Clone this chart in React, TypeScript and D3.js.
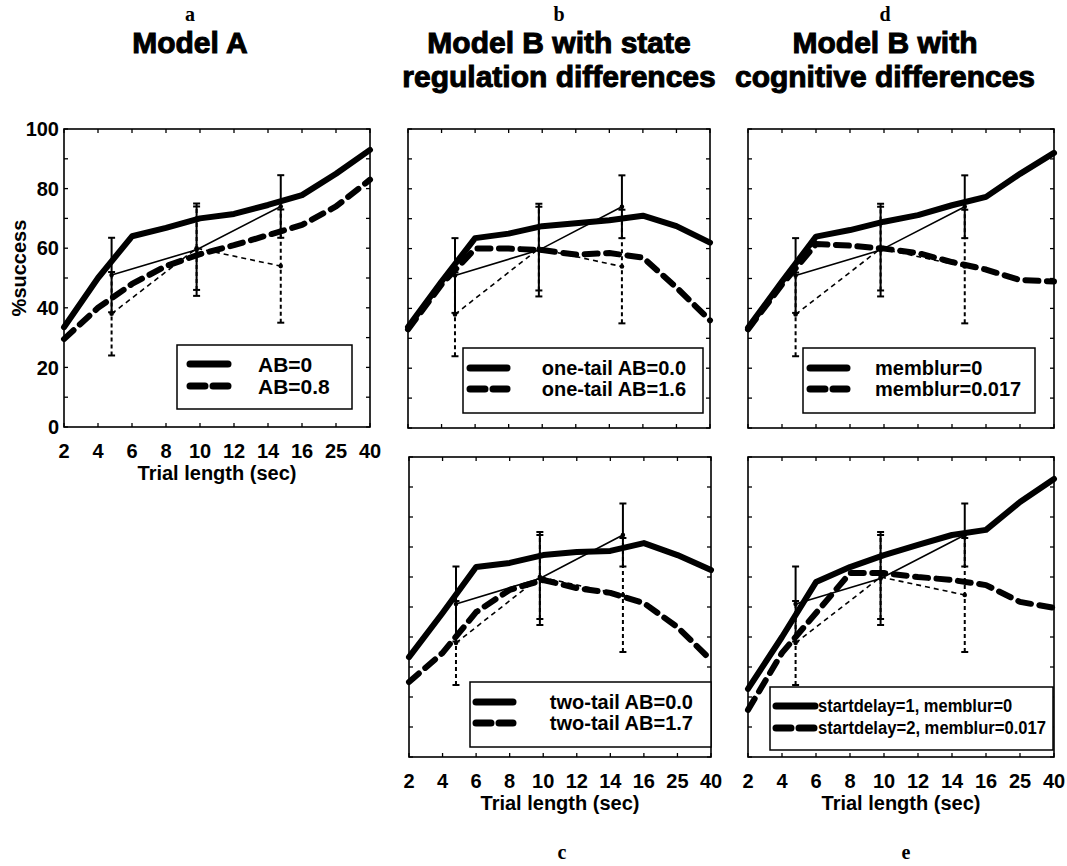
import React from "react";
import * as d3 from "d3";

// trial lengths (equally spaced categories on the x axis)
const trialLengths = [2, 4, 6, 8, 10, 12, 14, 16, 25, 40];
const yTicks = [0, 20, 40, 60, 80, 100];

// observed data (thin lines with error bars), same in every panel
const dataX = [4.8, 9.8, 14.75];
const dataSolid = [51, 59.5, 74];
const dataSolidErr = [12.5, 15.5, 10.5];
const dataDashed = [38, 60, 54];
const dataDashedErr = [14, 14, 19];

// model curves
const modelA_AB0 = [33.5, 50, 64, 66.8, 70, 71.5, 74.5, 77.8, 85, 93];
const modelA_AB08 = [29.5, 40, 48, 54, 58, 61, 64.4, 67.8, 74, 83];
const oneTail00 = [33.8, 49, 63.5, 65, 67.5, 68.5, 69.5, 71, 67.5, 62];
const oneTail16 = [33, 48, 60, 60, 59.5, 58, 58.5, 57, 47, 36];
const twoTail00 = [33.3, 48, 63.3, 64.7, 67.3, 68.3, 68.7, 71.3, 67.3, 62.3];
const twoTail17 = [25, 34.7, 48.3, 55.7, 59, 56.3, 54.7, 51.3, 43.3, 32.3];
const memblur0 = [33.5, 49, 64, 66.2, 69, 71.2, 74.5, 77.3, 85, 92];
const memblur017 = [33, 48, 61.5, 61, 60, 58.5, 55.5, 53, 49.5, 49];
const startdelay1 = [22.7, 40, 58.3, 63.3, 67.3, 70.7, 74, 75.7, 85, 92.7];
const startdelay2 = [15.7, 34.7, 48, 61.3, 61.3, 60, 59, 57.3, 51.7, 49.7];

const legendA = ["AB=0", "AB=0.8"];
const legendB = ["one-tail AB=0.0", "one-tail AB=1.6"];
const legendC = ["two-tail AB=0.0", "two-tail AB=1.7"];
const legendD = ["memblur=0", "memblur=0.017"];
const legendE = ["startdelay=1, memblur=0", "startdelay=2, memblur=0.017"];

const SANS = "'Liberation Sans', Arial, Helvetica, sans-serif";
const SERIF = "'Liberation Serif', 'Times New Roman', serif";

type Legend = {
  labels: string[];
  box: [number, number, number, number];
  sx: [number, number];
  sy: [number, number];
  tx: number;
  anchor: "start" | "end";
  size: number;
  fit?: number;
};

type PanelProps = {
  x0: number; x1: number; y0: number; y1: number;
  solid: number[]; dashed: number[];
  legend: Legend;
  yLabels?: boolean; xLabels?: boolean;
};

function Panel(p: PanelProps) {
  const x = d3.scaleLinear()
    .domain(trialLengths)
    .range(trialLengths.map((_, i) => p.x0 + (i * (p.x1 - p.x0)) / (trialLengths.length - 1)));
  const y = d3.scaleLinear().domain([0, 100]).range([p.y1, p.y0]);
  const line = d3.line<number>().x((_, i) => x(trialLengths[i])).y(d => y(d));
  const dline = d3.line<number>().x((_, i) => x(dataX[i])).y(d => y(d));
  const tk = 4;
  const lg = p.legend;

  return (
    <g>
      {/* model curves */}
      <path d={line(p.solid) || ""} fill="none" stroke="#000" strokeWidth={6} strokeLinejoin="round" strokeLinecap="round" />
      <path d={line(p.dashed) || ""} fill="none" stroke="#000" strokeWidth={6} strokeLinejoin="round" strokeLinecap="round" strokeDasharray="13 8.5" />

      {/* observed data */}
      <path d={dline(dataSolid) || ""} fill="none" stroke="#000" strokeWidth={1.6} />
      <path d={dline(dataDashed) || ""} fill="none" stroke="#000" strokeWidth={1.6} strokeDasharray="5 4" />
      {dataX.map((dx, i) => {
        const cx = x(dx);
        const bars = [
          { m: dataSolid[i], e: dataSolidErr[i], dash: undefined },
          { m: dataDashed[i], e: dataDashedErr[i], dash: "4 3" },
        ];
        return (
          <g key={i}>
            {bars.map((b, j) => (
              <g key={j}>
                <line x1={cx} x2={cx} y1={y(b.m - b.e)} y2={y(b.m + b.e)} stroke="#000" strokeWidth={2} strokeDasharray={b.dash} />
                <line x1={cx - 3.5} x2={cx + 3.5} y1={y(b.m - b.e)} y2={y(b.m - b.e)} stroke="#000" strokeWidth={2} />
                <line x1={cx - 3.5} x2={cx + 3.5} y1={y(b.m + b.e)} y2={y(b.m + b.e)} stroke="#000" strokeWidth={2} />
                <circle cx={cx} cy={y(b.m)} r={2.3} fill="#000" />
              </g>
            ))}
          </g>
        );
      })}

      {/* frame and inward ticks */}
      <rect x={p.x0} y={p.y0} width={p.x1 - p.x0} height={p.y1 - p.y0} fill="none" stroke="#000" strokeWidth={1.6} />
      {trialLengths.map((t, i) => (
        <g key={"xt" + i}>
          <line x1={x(t)} x2={x(t)} y1={p.y1} y2={p.y1 - tk} stroke="#000" strokeWidth={1.3} />
          <line x1={x(t)} x2={x(t)} y1={p.y0} y2={p.y0 + tk} stroke="#000" strokeWidth={1.3} />
        </g>
      ))}
      {d3.range(0, 101, 10).map(v => (
        <g key={"yt" + v}>
          <line x1={p.x0} x2={p.x0 + tk} y1={y(v)} y2={y(v)} stroke="#000" strokeWidth={1.3} />
          <line x1={p.x1} x2={p.x1 - tk} y1={y(v)} y2={y(v)} stroke="#000" strokeWidth={1.3} />
        </g>
      ))}

      {p.yLabels && yTicks.map(v => (
        <text key={"yl" + v} x={p.x0 - 5} y={y(v)} dy="0.36em" textAnchor="end" fontFamily={SANS} fontWeight="bold" fontSize={20}>{v}</text>
      ))}
      {p.xLabels && trialLengths.map(t => (
        <text key={"xl" + t} x={x(t)} y={p.y1 + 24} dy="0.36em" textAnchor="middle" fontFamily={SANS} fontWeight="bold" fontSize={20}>{t}</text>
      ))}
      {p.xLabels && (
        <text x={(p.x0 + p.x1) / 2} y={p.y1 + 46} dy="0.36em" textAnchor="middle" fontFamily={SANS} fontWeight="bold" fontSize={20}>Trial length (sec)</text>
      )}

      {/* legend */}
      <rect x={lg.box[0]} y={lg.box[1]} width={lg.box[2] - lg.box[0]} height={lg.box[3] - lg.box[1]} fill="#fff" stroke="#000" strokeWidth={1.5} />
      {lg.labels.map((lab, i) => (
        <g key={"lg" + i}>
          <line x1={lg.sx[0]} x2={lg.sx[1]} y1={lg.sy[i]} y2={lg.sy[i]} stroke="#000" strokeWidth={7} strokeLinecap="round"
            strokeDasharray={i === 1 ? "15 8" : undefined} />
          <text x={lg.tx} y={lg.sy[i]} dy="0.36em" textAnchor={lg.anchor} fontFamily={SANS} fontWeight="bold" fontSize={lg.size}
            textLength={lg.fit ? lg.fit * lab.length / lg.labels[1].length : undefined} lengthAdjust="spacingAndGlyphs">{lab}</text>
        </g>
      ))}
    </g>
  );
}

function Title({ cx, letter, lines }: { cx: number; letter: string; lines: string[] }) {
  return (
    <g textAnchor="middle">
      <text x={cx} y={14} dy="0.35em" fontFamily={SERIF} fontWeight="bold" fontSize={20}>{letter}</text>
      {lines.map((l, i) => (
        <text key={i} x={cx} y={42 + i * 34} dy="0.36em" fontFamily={SANS} fontWeight="bold" fontSize={30}
          stroke="#000" strokeWidth={1}>{l}</text>
      ))}
    </g>
  );
}

export default function App() {
  return (
    <svg width={1067} height={866} style={{ position: "absolute", left: 0, top: 0, background: "#fff" }}>
      <Title cx={190} letter="a" lines={["Model A"]} />
      <Title cx={559} letter="b" lines={["Model B with state", "regulation differences"]} />
      <Title cx={885} letter="d" lines={["Model B with", "cognitive differences"]} />

      <text x={19} y={268} dy="0.36em" textAnchor="middle" transform="rotate(-90 19 268)" fontFamily={SANS} fontWeight="bold" fontSize={20}>%success</text>

      <Panel x0={64} x1={370} y0={129} y1={427} solid={modelA_AB0} dashed={modelA_AB08} yLabels xLabels
        legend={{ labels: legendA, box: [177, 345, 352, 409], sx: [190, 228], sy: [364, 386], tx: 258, anchor: "start", size: 21 }} />
      <Panel x0={408} x1={710} y0={129} y1={428} solid={oneTail00} dashed={oneTail16}
        legend={{ labels: legendB, box: [463, 348, 703, 413], sx: [470, 507], sy: [368, 389], tx: 686, anchor: "end", size: 20 }} />
      <Panel x0={748} x1={1054} y0={129} y1={428} solid={memblur0} dashed={memblur017}
        legend={{ labels: legendD, box: [803, 348, 1035, 413], sx: [810, 847], sy: [368, 389], tx: 875, anchor: "start", size: 20 }} />
      <Panel x0={409} x1={711} y0={457} y1={757} solid={twoTail00} dashed={twoTail17} xLabels
        legend={{ labels: legendC, box: [470, 682, 711, 747], sx: [476, 513], sy: [702, 723], tx: 693, anchor: "end", size: 20 }} />
      <Panel x0={748} x1={1054} y0={457} y1={757} solid={startdelay1} dashed={startdelay2} xLabels
        legend={{ labels: legendE, box: [770, 687, 1053, 750], sx: [776, 815], sy: [706, 728], tx: 818, anchor: "start", size: 18, fit: 228 }} />

      <text x={562} y={852} dy="0.35em" textAnchor="middle" fontFamily={SERIF} fontWeight="bold" fontSize={20}>c</text>
      <text x={906} y={852} dy="0.35em" textAnchor="middle" fontFamily={SERIF} fontWeight="bold" fontSize={20}>e</text>
    </svg>
  );
}
